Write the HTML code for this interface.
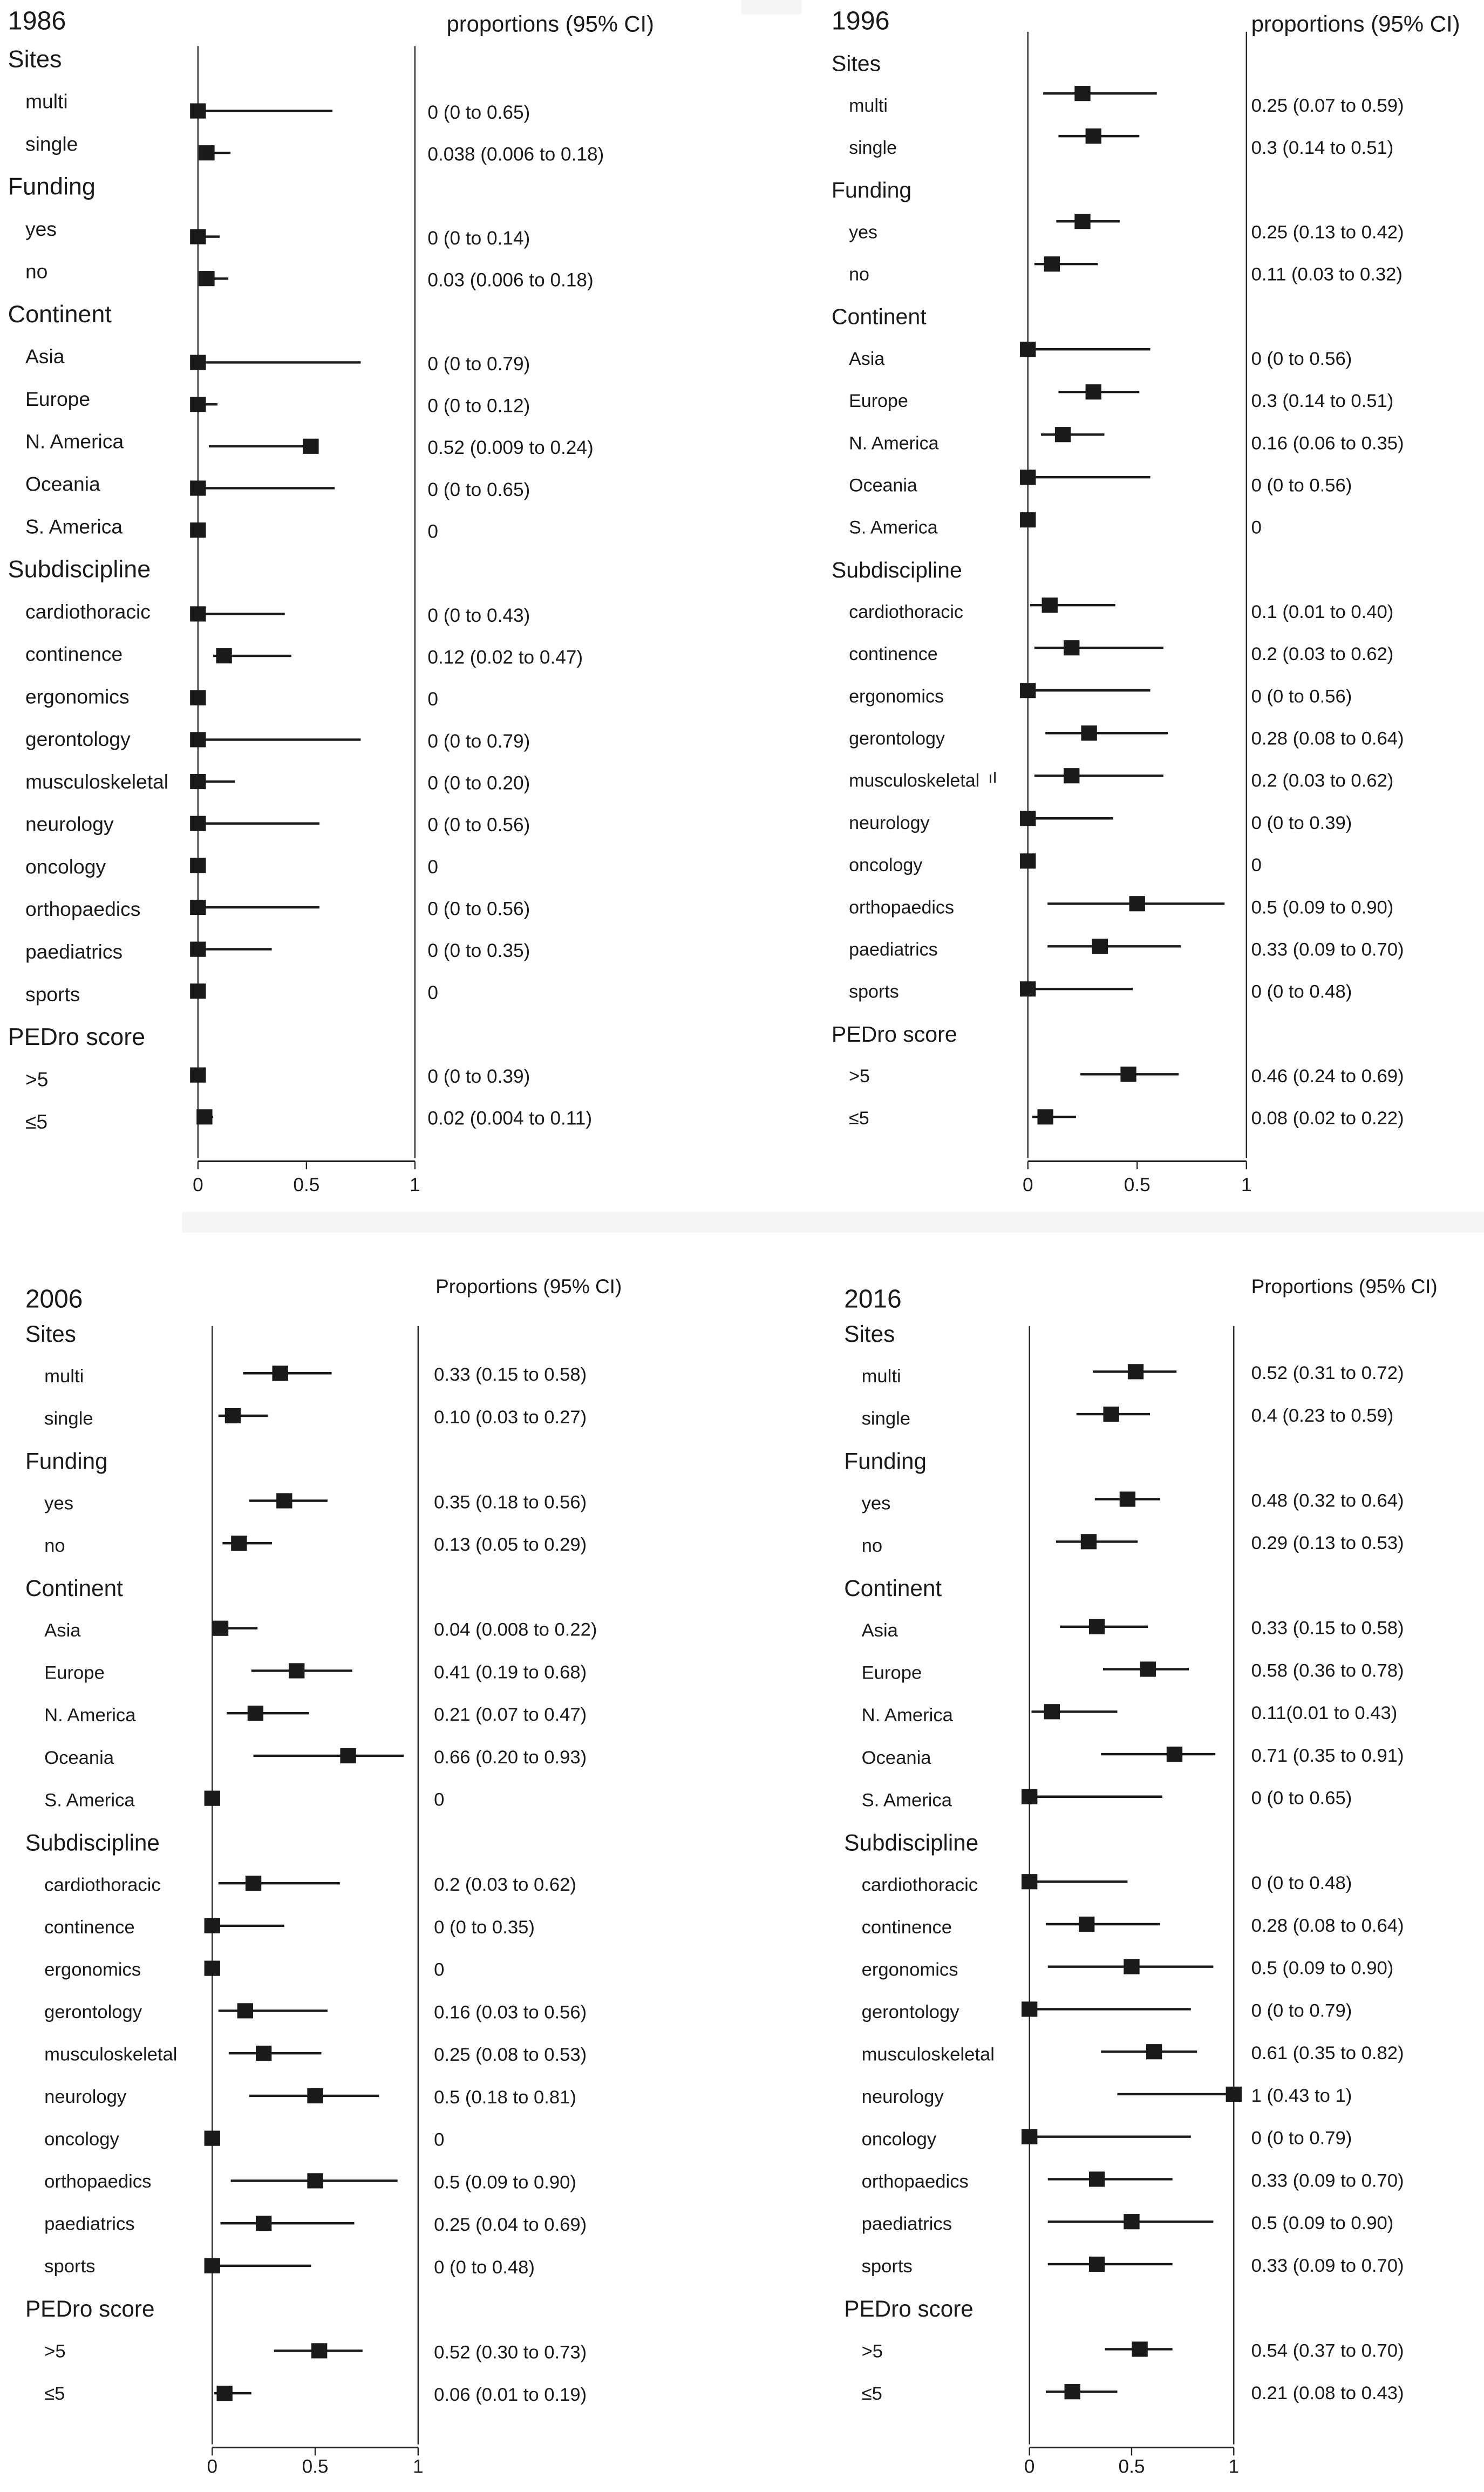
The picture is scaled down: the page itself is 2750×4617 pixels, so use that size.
<!DOCTYPE html>
<html><head><meta charset="utf-8"><title>Forest plots 1986–2016</title>
<style>
html,body{margin:0;padding:0;background:#fff;}
svg{display:block;}
text{font-family:"Liberation Sans",sans-serif;fill:#1a1a1a;}
</style></head>
<body>
<svg id="chart" xmlns="http://www.w3.org/2000/svg" width="2750" height="4617" viewBox="0 0 937 1573">
<rect x="0" y="0" width="937" height="1573" fill="#fff"/>
<rect x="115" y="765" width="822" height="13" fill="#f5f5f5"/>
<rect x="468" y="0" width="38" height="9" fill="#f5f5f5"/>
<g id="root"></g>
</svg>
<script>
// Row structure (shared by all panels)
const rowLabels = ["Sites","multi","single","Funding","yes","no","Continent","Asia","Europe","N. America","Oceania","S. America","Subdiscipline","cardiothoracic","continence","ergonomics","gerontology","musculoskeletal","neurology","oncology","orthopaedics","paediatrics","sports","PEDro score",">5","\u22645"];
const rowIsHeader = [1,0,0,1,0,0,1,0,0,0,0,0,1,0,0,0,0,0,0,0,0,0,0,1,0,0];
const tickValues = [0,0.5,1];
const tickLabels = ["0","0.5","1"];

// 1986 (null = header row)
const est1986 = [null,0,0.04,null,0,0.04,null,0,0,0.52,0,0,null,0,0.12,0,0,0,0,0,0,0,0,null,0,0.03];
const lo1986  = [null,0,0.01,null,0,0.01,null,0,0,0.05,0,0,null,0,0.07,0,0,0,0,0,0,0,0,null,0,0.01];
const hi1986  = [null,0.62,0.15,null,0.1,0.14,null,0.75,0.09,0.52,0.63,0,null,0.4,0.43,0,0.75,0.17,0.56,0,0.56,0.34,0,null,0,0.07];
const txt1986 = [null,"0 (0 to 0.65)","0.038 (0.006 to 0.18)",null,"0 (0 to 0.14)","0.03 (0.006 to 0.18)",null,"0 (0 to 0.79)","0 (0 to 0.12)","0.52 (0.009 to 0.24)","0 (0 to 0.65)","0",null,"0 (0 to 0.43)","0.12 (0.02 to 0.47)","0","0 (0 to 0.79)","0 (0 to 0.20)","0 (0 to 0.56)","0","0 (0 to 0.56)","0 (0 to 0.35)","0",null,"0 (0 to 0.39)","0.02 (0.004 to 0.11)"];

// 1996
const est1996 = [null,0.25,0.3,null,0.25,0.11,null,0,0.3,0.16,0,0,null,0.1,0.2,0,0.28,0.2,0,0,0.5,0.33,0,null,0.46,0.08];
const lo1996  = [null,0.07,0.14,null,0.13,0.03,null,0,0.14,0.06,0,0,null,0.01,0.03,0,0.08,0.03,0,0,0.09,0.09,0,null,0.24,0.02];
const hi1996  = [null,0.59,0.51,null,0.42,0.32,null,0.56,0.51,0.35,0.56,0,null,0.40,0.62,0.56,0.64,0.62,0.39,0,0.90,0.70,0.48,null,0.69,0.22];
const txt1996 = [null,"0.25 (0.07 to 0.59)","0.3 (0.14 to 0.51)",null,"0.25 (0.13 to 0.42)","0.11 (0.03 to 0.32)",null,"0 (0 to 0.56)","0.3 (0.14 to 0.51)","0.16 (0.06 to 0.35)","0 (0 to 0.56)","0",null,"0.1 (0.01 to 0.40)","0.2 (0.03 to 0.62)","0 (0 to 0.56)","0.28 (0.08 to 0.64)","0.2 (0.03 to 0.62)","0 (0 to 0.39)","0","0.5 (0.09 to 0.90)","0.33 (0.09 to 0.70)","0 (0 to 0.48)",null,"0.46 (0.24 to 0.69)","0.08 (0.02 to 0.22)"];

// 2006
const est2006 = [null,0.33,0.10,null,0.35,0.13,null,0.04,0.41,0.21,0.66,0,null,0.2,0,0,0.16,0.25,0.5,0,0.5,0.25,0,null,0.52,0.06];
const lo2006  = [null,0.15,0.03,null,0.18,0.05,null,0.008,0.19,0.07,0.20,0,null,0.03,0,0,0.03,0.08,0.18,0,0.09,0.04,0,null,0.30,0.01];
const hi2006  = [null,0.58,0.27,null,0.56,0.29,null,0.22,0.68,0.47,0.93,0,null,0.62,0.35,0,0.56,0.53,0.81,0,0.90,0.69,0.48,null,0.73,0.19];
const txt2006 = [null,"0.33 (0.15 to 0.58)","0.10 (0.03 to 0.27)",null,"0.35 (0.18 to 0.56)","0.13 (0.05 to 0.29)",null,"0.04 (0.008 to 0.22)","0.41 (0.19 to 0.68)","0.21 (0.07 to 0.47)","0.66 (0.20 to 0.93)","0",null,"0.2 (0.03 to 0.62)","0 (0 to 0.35)","0","0.16 (0.03 to 0.56)","0.25 (0.08 to 0.53)","0.5 (0.18 to 0.81)","0","0.5 (0.09 to 0.90)","0.25 (0.04 to 0.69)","0 (0 to 0.48)",null,"0.52 (0.30 to 0.73)","0.06 (0.01 to 0.19)"];

// 2016
const est2016 = [null,0.52,0.4,null,0.48,0.29,null,0.33,0.58,0.11,0.71,0,null,0,0.28,0.5,0,0.61,1,0,0.33,0.5,0.33,null,0.54,0.21];
const lo2016  = [null,0.31,0.23,null,0.32,0.13,null,0.15,0.36,0.01,0.35,0,null,0,0.08,0.09,0,0.35,0.43,0,0.09,0.09,0.09,null,0.37,0.08];
const hi2016  = [null,0.72,0.59,null,0.64,0.53,null,0.58,0.78,0.43,0.91,0.65,null,0.48,0.64,0.90,0.79,0.82,1,0.79,0.70,0.90,0.70,null,0.70,0.43];
const txt2016 = [null,"0.52 (0.31 to 0.72)","0.4 (0.23 to 0.59)",null,"0.48 (0.32 to 0.64)","0.29 (0.13 to 0.53)",null,"0.33 (0.15 to 0.58)","0.58 (0.36 to 0.78)","0.11(0.01 to 0.43)","0.71 (0.35 to 0.91)","0 (0 to 0.65)",null,"0 (0 to 0.48)","0.28 (0.08 to 0.64)","0.5 (0.09 to 0.90)","0 (0 to 0.79)","0.61 (0.35 to 0.82)","1 (0.43  to 1)","0 (0 to 0.79)","0.33 (0.09 to 0.70)","0.5 (0.09 to 0.90)","0.33 (0.09 to 0.70)",null,"0.54 (0.37 to 0.70)","0.21 (0.08 to 0.43)"];

const NS="http://www.w3.org/2000/svg";
const root=document.getElementById('root');
function mk(tag,attrs,parent){const e=document.createElementNS(NS,tag);for(const k in attrs)e.setAttribute(k,attrs[k]);(parent||root).appendChild(e);return e;}
function txt(parent,x,y,s,size,anchor){
  const t=mk('text',{x:x,y:y,'font-size':size,'dominant-baseline':'central','text-anchor':anchor||'start'},parent);
  t.textContent=s;return t;
}

const panels=[
 {id:'1986',title:'1986',tx:5,ty:13,head:'proportions (95% CI)',hx:282,hy:15,x0:125,x1:262,hdX:5,itX:16,valX:270,
  lab0:37,labS:26.84,mk0:43.5,mkS:26.46,valFromMarker:true,top:29,axisY:733,tickY:748,
  fT:16.5,fG:15.3,fI:12.7,fV:12,fH:14.2,est:est1986,lo:lo1986,hi:hi1986,txt:txt1986},
 {id:'1996',title:'1996',tx:525,ty:13,head:'proportions (95% CI)',hx:790,hy:15,x0:649,x1:787,hdX:525,itX:536,valX:790,
  lab0:40,labS:26.64,mk0:32,mkS:26.92,valFromMarker:false,top:20,axisY:733,tickY:748,
  fT:16.5,fG:14,fI:11.6,fV:11.8,fH:14.3,est:est1996,lo:lo1996,hi:hi1996,txt:txt1996},
 {id:'2006',title:'2006',tx:16,ty:820,head:'Proportions (95% CI)',hx:275,hy:812,x0:134,x1:264,hdX:16,itX:28,valX:274,
  lab0:842,labS:26.76,mk0:840,mkS:26.83,valFromMarker:true,top:837,axisY:1545,tickY:1557,
  fT:16.3,fG:14.4,fI:11.8,fV:11.8,fH:12.6,est:est2006,lo:lo2006,hi:hi2006,txt:txt2006},
 {id:'2016',title:'2016',tx:533,ty:820,head:'Proportions (95% CI)',hx:790,hy:812,x0:650,x1:779,hdX:533,itX:544,valX:790,
  lab0:842,labS:26.76,mk0:839,mkS:26.83,valFromMarker:true,top:837,axisY:1545,tickY:1557,
  fT:16.3,fG:14.4,fI:11.8,fV:11.8,fH:12.6,est:est2016,lo:lo2016,hi:hi2016,txt:txt2016}
];

panels.forEach(p=>{
  const g=mk('g',{});
  
  
  const xs=v=>p.x0+(p.x1-p.x0)*v;
  const t=txt(g,p.tx,p.ty,p.title,p.fT);
  
  
  const h=txt(g,p.hx,p.hy,p.head,p.fH);
  
  
  const l0=mk('line',{x1:xs(0),x2:xs(0),y1:p.top,y2:p.axisY-2,stroke:'#222','stroke-width':0.8},g);
  
  
  const l1=mk('line',{x1:xs(1),x2:xs(1),y1:p.top,y2:p.axisY-2,stroke:'#222','stroke-width':0.8},g);
  
  
  const ax=mk('line',{x1:xs(0),x2:xs(1),y1:p.axisY,y2:p.axisY,stroke:'#222','stroke-width':1},g);
  
  
  tickValues.forEach((v,i)=>{
    const tk=mk('line',{x1:xs(v),x2:xs(v),y1:p.axisY,y2:p.axisY+5,stroke:'#222','stroke-width':0.8},g);
    
    
    const tl=txt(g,xs(v),p.tickY,tickLabels[i],12,'middle');
    
    
  });
  rowLabels.forEach((lab,i)=>{
    const ly=p.lab0+p.labS*i;
    const isH=rowIsHeader[i];
    const lt=txt(g,isH?p.hdX:p.itX,ly,lab,isH?p.fG:p.fI);
    
    
    if(isH) return;
    const my=p.mk0+p.mkS*i;
    const ci=mk('line',{x1:xs(p.lo[i]),x2:xs(p.hi[i]),y1:my,y2:my,stroke:'#1a1a1a','stroke-width':1.5},g);
    
    
    const sq=mk('rect',{x:xs(p.est[i])-5,y:my-4.8,width:10,height:9.6,fill:'#1a1a1a'},g);
    
    
    const vt=txt(g,p.valX,p.valFromMarker?my+1:ly,p.txt[i],p.fV);
    
    
  });
  if(p.id==='1996'){
    const a=txt(g,624,491,'ıI',10);
    
    
    a.setAttribute('fill','#555');
  }
});
</script>
</body></html>
